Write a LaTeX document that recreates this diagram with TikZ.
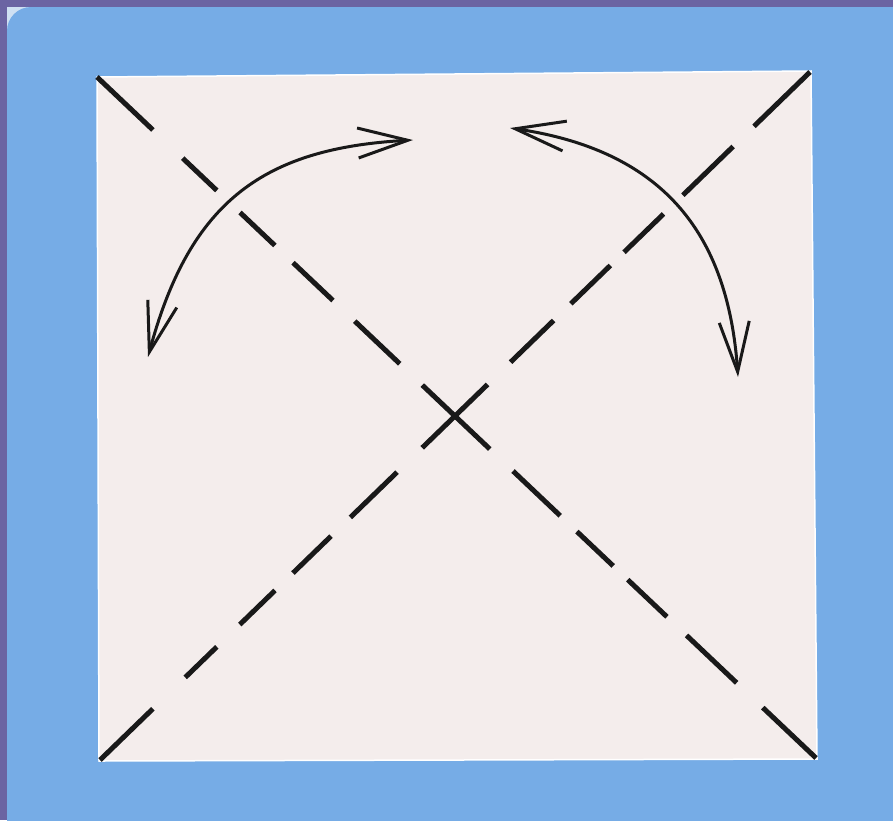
\documentclass[tikz,border=0pt]{standalone}
\usepackage{tikz}
\usetikzlibrary{arrows.meta}
\definecolor{frpurple}{HTML}{6B64A3}
\definecolor{frblue}{HTML}{76ACE6}
\definecolor{frpale}{HTML}{CFE0F3}
\definecolor{paper}{HTML}{F4EDEC}

\begin{document}
\begin{tikzpicture}[x=1pt,y=-1pt,
  fold/.style={line width=5pt,black!90},
  swing/.style={line width=3pt,black!90,
    {Straight Barb[length=50pt,width=30pt,line width=3pt]}-{Straight Barb[length=50pt,width=30pt,line width=3pt]}}]
\useasboundingbox (0,0) rectangle (893,820);
% frame
\fill[frpurple] (0,0) rectangle (893,820);
\fill[frpale] (7,7) rectangle (893,820);
\fill[frblue,rounded corners=24pt] (7,7) rectangle (920,850);
% sheet
\coordinate (tl) at (97,77);
\coordinate (tr) at (810,72);
\coordinate (br) at (816,758);
\coordinate (bl) at (100,760);
\fill[paper,draw=white,line width=1.5pt] (tl) -- (811,71) -- (817,759) -- (99,761) -- cycle;
% valley folds along both diagonals
\draw[fold,dash pattern=on 77pt off 41pt on 47pt off 32pt on 48pt off 25pt on 55pt off 30pt
  on 62pt off 31pt on 93pt off 32pt on 65pt off 23pt on 50pt off 20pt on 54pt off 27pt
  on 69pt off 36pt on 80pt off 10pt] (tl) -- (br);
\draw[fold,dash pattern=on 78pt off 29pt on 70pt off 27pt on 55pt off 19pt on 55pt off 24pt
  on 60pt off 32pt on 91pt off 35pt on 65pt off 27pt on 53pt off 25pt on 49pt off 32pt
  on 44pt off 45pt on 80pt off 10pt] (tr) -- (bl);
% turn-over arrows
\coordinate (la) at (148,357);
\coordinate (lb) at (413,140);
\coordinate (ra) at (510,128);
\coordinate (rb) at (738,377);
\draw[swing] (la) .. controls (190,200) and (265,148) .. (lb);
\draw[swing] (ra) .. controls (660,150) and (728,230) .. (rb);
\end{tikzpicture}
\end{document}
